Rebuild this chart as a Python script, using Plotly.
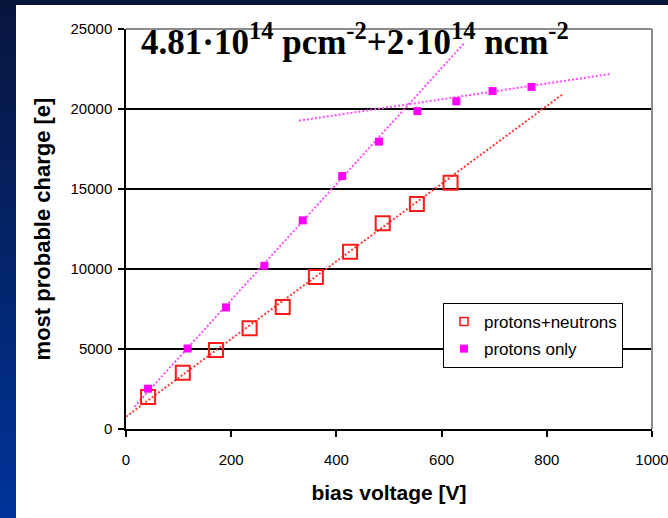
import plotly.graph_objects as go

# Measured most probable charge vs. bias voltage
bias_pn = [42, 108, 171, 235, 298, 361, 426, 488, 553, 617]
charge_pn = [2000, 3520, 4940, 6300, 7630, 9500, 11080, 12860, 14060, 15390]

bias_p = [42, 117, 190, 263, 336, 411, 481, 554, 628, 697, 771]
charge_p = [2520, 5030, 7600, 10200, 13040, 15810, 17960, 19870, 20480, 21120, 21380]

# Linear trend lines: slope [e/V], intercept [e], voltage span [V]
trend_color = ["#ff3a3a", "#ff4dff", "#ff4dff"]
trend_slope = [24.27, 36.24, 4.93]
trend_intercept = [770, 814, 17649]
trend_v_start = [0, 16, 329]
trend_v_end = [831, 644, 921]

x_ticks = [0, 200, 400, 600, 800, 1000]
y_ticks = [0, 5000, 10000, 15000, 20000, 25000]

W, H = 668, 518
ML, MR, MT, MB = 126, 16, 29, 89

fig = go.Figure()

for c, k, b, v0, v1 in zip(trend_color, trend_slope, trend_intercept,
                           trend_v_start, trend_v_end):
    fig.add_trace(go.Scatter(
        x=[v0, v1], y=[b + k * v0, b + k * v1], mode="lines",
        line=dict(color=c, width=2, dash="2px,2px"),
        showlegend=False, hoverinfo="skip"))

fig.add_trace(go.Scatter(
    x=bias_pn, y=charge_pn, mode="markers", name="protons+neutrons",
    marker=dict(symbol="square-open", size=14, color="#ff1a1a",
                line=dict(width=2, color="#ff1a1a")),
    showlegend=False))
fig.add_trace(go.Scatter(
    x=bias_p, y=charge_p, mode="markers", name="protons only",
    marker=dict(symbol="square", size=8, color="#ff00ff", line=dict(width=0)),
    showlegend=False))

# legend entries with small symbols
fig.add_trace(go.Scatter(
    x=[None], y=[None], mode="markers", name="protons+neutrons",
    legendgroup="a",
    marker=dict(symbol="square-open", size=8, color="#ff1a1a",
                line=dict(width=1.5, color="#ff1a1a"))))
fig.add_trace(go.Scatter(
    x=[None], y=[None], mode="markers", name="protons only",
    legendgroup="b",
    marker=dict(symbol="square", size=8, color="#ff00ff", line=dict(width=0))))

# page background: dark blue gradient strips around a white panel
def px_x(p):
    return (p - ML) / (W - ML - MR)

def px_y(p):
    return (H - MB - p) / (H - MT - MB)

top_rgb = (8, 22, 62)
bot_rgb = (0, 51, 153)
shapes = []
n = 40
for i in range(n):
    t = i / (n - 1)
    r = round(top_rgb[0] + (bot_rgb[0] - top_rgb[0]) * t)
    g = round(top_rgb[1] + (bot_rgb[1] - top_rgb[1]) * t)
    bl = round(top_rgb[2] + (bot_rgb[2] - top_rgb[2]) * t)
    y0 = H * i / n
    y1 = H * (i + 1) / n + 1
    shapes.append(dict(type="rect", xref="paper", yref="paper", layer="below",
                       x0=px_x(0), x1=px_x(16), y0=px_y(y1), y1=px_y(y0),
                       fillcolor=f"rgb({r},{g},{bl})", line=dict(width=0)))
shapes.append(dict(type="rect", xref="paper", yref="paper", layer="below",
                   x0=px_x(0), x1=px_x(W), y0=px_y(5), y1=px_y(0),
                   fillcolor="rgb(8,22,62)", line=dict(width=0)))
# grey frame on top and right of the plot area
shapes.append(dict(type="line", xref="paper", yref="paper", layer="above",
                   x0=0, x1=1, y0=1, y1=1, line=dict(color="#8c8c8c", width=2)))
shapes.append(dict(type="line", xref="paper", yref="paper", layer="above",
                   x0=1, x1=1, y0=0, y1=1, line=dict(color="#8c8c8c", width=2)))

fig.update_layout(
    width=W, height=H,
    margin=dict(l=ML, r=MR, t=MT, b=MB),
    paper_bgcolor="white", plot_bgcolor="white",
    shapes=shapes,
    font=dict(family="Liberation Sans, Arial, sans-serif", color="black"),
    xaxis=dict(range=[0, 1000], tickvals=x_ticks, showgrid=False,
               showline=True, linecolor="black", linewidth=1.5,
               ticks="outside", ticklen=6, tickwidth=1.5, tickcolor="black",
               tickfont=dict(size=15), zeroline=False, ticklabelstandoff=10,
               ticklabeloverflow="allow", automargin=False,
               title=dict(text="<b>bias voltage [V]</b>",
                          font=dict(size=21), standoff=19)),
    yaxis=dict(range=[0, 25000], tickvals=y_ticks, tickformat="d",
               showgrid=True, gridcolor="black", gridwidth=1.5,
               showline=True, linecolor="black", linewidth=1.5,
               ticks="outside", ticklen=6, tickwidth=1.5, tickcolor="black",
               tickfont=dict(size=15), zeroline=False, ticklabelstandoff=3,
               automargin=False,
               title=dict(text="<b>most probable charge [e]</b>",
                          font=dict(size=22), standoff=14)),
    legend=dict(x=px_x(443), y=px_y(303), xanchor="left", yanchor="top",
                bgcolor="white", bordercolor="black", borderwidth=1,
                font=dict(size=17), itemwidth=30, tracegroupgap=2),
    annotations=[dict(
        xref="paper", yref="paper", x=px_x(139), y=px_y(40),
        xanchor="left", yanchor="middle", showarrow=False,
        text="<b>4.81·10<sup>14</sup> pcm<sup>-2</sup>+2·10<sup>14</sup> ncm<sup>-2</sup></b>",
        font=dict(family="Liberation Serif, serif", size=35, color="black"))],
)

fig.write_html("out.html")
